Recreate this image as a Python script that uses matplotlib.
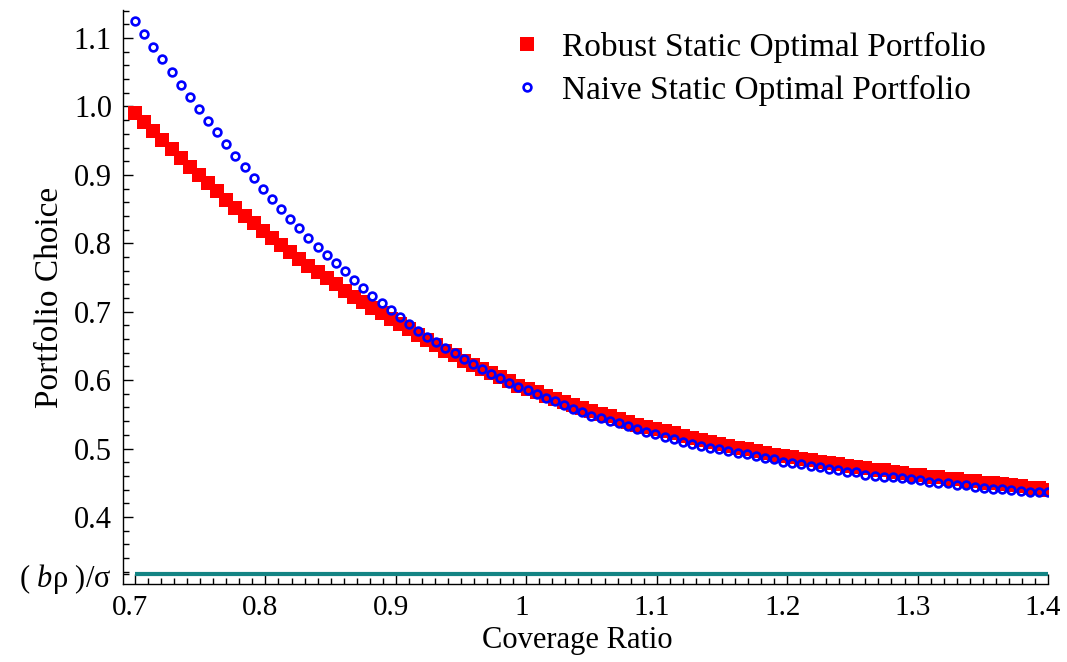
import numpy as np
import matplotlib
matplotlib.use("Agg")
import matplotlib.pyplot as plt
from matplotlib.lines import Line2D
from matplotlib.ticker import FixedLocator, FixedFormatter
from matplotlib.transforms import ScaledTranslation

plt.rcParams["font.family"] = ["Liberation Serif", "DejaVu Serif"]
plt.rcParams["mathtext.fontset"] = "custom"
plt.rcParams["mathtext.rm"] = "Liberation Serif"
plt.rcParams["mathtext.it"] = "Liberation Serif:italic"

# Coverage ratio grid (101 samples from 0.7 to 1.4)
coverage = np.linspace(0.7, 1.4, 101)

robust = [
    0.991, 0.977, 0.964, 0.951, 0.938, 0.925, 0.912, 0.900, 0.888, 0.876,
    0.864, 0.852, 0.840, 0.829, 0.818, 0.808, 0.797, 0.787, 0.777, 0.767,
    0.758, 0.749, 0.740, 0.731, 0.722, 0.714, 0.706, 0.698, 0.690, 0.682,
    0.674, 0.666, 0.659, 0.651, 0.643, 0.636, 0.628, 0.622, 0.616, 0.610,
    0.604, 0.598, 0.592, 0.587, 0.582, 0.577, 0.572, 0.568, 0.563, 0.559,
    0.555, 0.551, 0.547, 0.543, 0.539, 0.535, 0.532, 0.528, 0.525, 0.522,
    0.518, 0.515, 0.512, 0.509, 0.506, 0.504, 0.501, 0.499, 0.496, 0.494,
    0.491, 0.489, 0.487, 0.485, 0.483, 0.481, 0.479, 0.477, 0.475, 0.473,
    0.471, 0.469, 0.468, 0.466, 0.464, 0.462, 0.461, 0.459, 0.458, 0.456,
    0.455, 0.453, 0.452, 0.450, 0.449, 0.448, 0.446, 0.445, 0.443, 0.442,
    0.440,
]

naive = [
    1.125, 1.106, 1.087, 1.069, 1.050, 1.032, 1.014, 0.996, 0.979, 0.962,
    0.945, 0.928, 0.912, 0.896, 0.880, 0.865, 0.850, 0.836, 0.822, 0.808,
    0.795, 0.783, 0.771, 0.759, 0.747, 0.734, 0.723, 0.712, 0.702, 0.692,
    0.682, 0.672, 0.663, 0.655, 0.647, 0.639, 0.631, 0.624, 0.616, 0.609,
    0.603, 0.596, 0.590, 0.585, 0.579, 0.574, 0.569, 0.563, 0.558, 0.553,
    0.548, 0.544, 0.540, 0.537, 0.533, 0.528, 0.524, 0.521, 0.517, 0.514,
    0.510, 0.507, 0.504, 0.501, 0.499, 0.497, 0.494, 0.492, 0.489, 0.486,
    0.484, 0.481, 0.479, 0.477, 0.475, 0.473, 0.470, 0.468, 0.466, 0.465,
    0.462, 0.460, 0.459, 0.458, 0.457, 0.455, 0.454, 0.451, 0.450, 0.449,
    0.447, 0.446, 0.444, 0.443, 0.441, 0.441, 0.439, 0.438, 0.437, 0.436,
    0.436,
]

# Lower bound b*rho/sigma
bound = 0.3165

x_ticks = [0.7, 0.8, 0.9, 1.0, 1.1, 1.2, 1.3, 1.4]
x_tick_labels = ["0.7", "0.8", "0.9", "1", "1.1", "1.2", "1.3", "1.4"]
y_ticks = [0.4, 0.5, 0.6, 0.7, 0.8, 0.9, 1.0, 1.1]
y_tick_labels = ["0.4", "0.5", "0.6", "0.7", "0.8", "0.9", "1.0", "1.1"]
bound_label = r"( $\mathit{b}$ρ )/σ"

W, H = 1067, 662
fig = plt.figure(figsize=(W / 100, H / 100), dpi=100)
ax = fig.add_axes([123 / W, 1 - 584 / H, (1048 - 123) / W, (584 - 10) / H])

ax.hlines(bound, coverage[0], coverage[-1], color="#138484", linewidth=3.0, zorder=2)
ax.plot(coverage, robust, linestyle="none", marker="s", markersize=10,
        markerfacecolor="#ff0000", markeredgewidth=0, zorder=3)
ax.plot(coverage, naive, linestyle="none", marker="o", markersize=5.6,
        markerfacecolor="none", markeredgecolor="#0000ff", markeredgewidth=1.9, zorder=4)

ax.set_xlim(0.6908, 1.4)
ax.set_ylim(0.302, 1.141)

for side in ("top", "right"):
    ax.spines[side].set_visible(False)
for side in ("left", "bottom"):
    ax.spines[side].set_linewidth(1.0)

ax.xaxis.set_major_locator(FixedLocator(x_ticks))
ax.xaxis.set_major_formatter(FixedFormatter(x_tick_labels))
ax.xaxis.set_minor_locator(FixedLocator(np.round(np.arange(0.70, 1.4001, 0.01), 3)))

ax.yaxis.set_major_locator(FixedLocator([bound] + y_ticks))
ax.yaxis.set_major_formatter(FixedFormatter([bound_label] + y_tick_labels))
ax.yaxis.set_minor_locator(FixedLocator(np.round(np.arange(0.32, 1.141, 0.02), 3)))

ax.tick_params(which="both", direction="in", width=1.0)
ax.tick_params(axis="y", labelsize=22, pad=8)
ax.tick_params(axis="x", labelsize=21, pad=8)
ax.tick_params(which="major", length=7)
ax.tick_params(which="minor", length=4)
ax.yaxis.get_major_ticks()[0].tick1line.set_markersize(4)

# Nudge the x tick labels slightly left
shift = ScaledTranslation(-5 / 100, 0, fig.dpi_scale_trans)
for lab in ax.get_xticklabels():
    lab.set_transform(lab.get_transform() + shift)

ax.set_xlabel("Coverage Ratio", fontsize=22)
ax.xaxis.set_label_coords(0.491, -0.0735)
ax.set_ylabel("Portfolio Choice", fontsize=24)
ax.yaxis.set_label_coords(-0.063, 0.5)

handles = [
    Line2D([], [], linestyle="none", marker="s", markersize=10,
           markerfacecolor="#ff0000", markeredgewidth=0),
    Line2D([], [], linestyle="none", marker="o", markersize=5.6,
           markerfacecolor="none", markeredgecolor="#0000ff", markeredgewidth=1.9),
]
ax.legend(handles, ["Robust Static Optimal Portfolio", "Naive Static Optimal Portfolio"],
          loc="upper left", bbox_to_anchor=(510 / W, 1 - 32 / H),
          bbox_transform=fig.transFigure, frameon=False, fontsize=24,
          handlelength=1.0, handletextpad=0.55, labelspacing=0.35, borderpad=0,
          borderaxespad=0)

fig.savefig("out.png", dpi=100)
